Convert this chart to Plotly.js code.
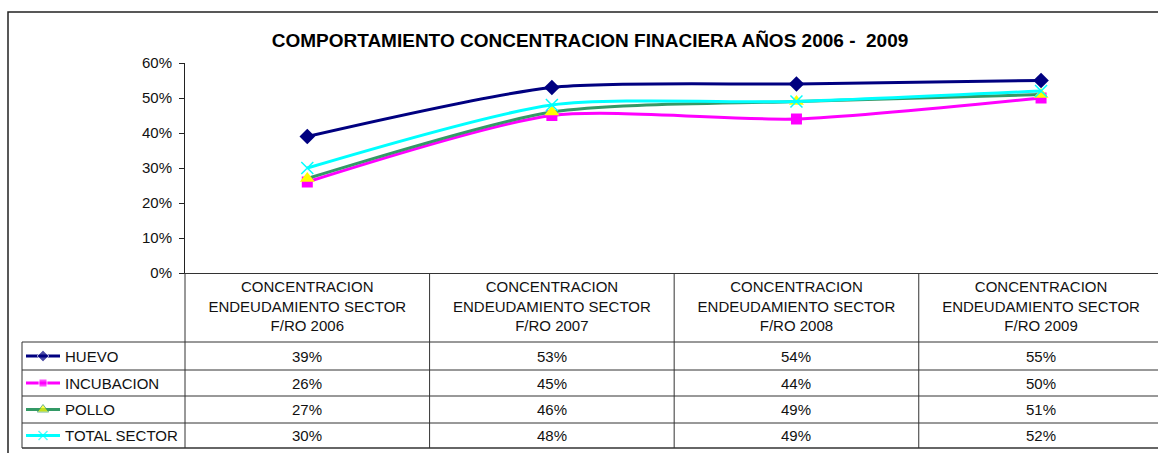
<!DOCTYPE html>
<html>
<head>
<meta charset="utf-8">
<script src="https://cdn.plot.ly/plotly-3.0.1.min.js"></script>
<style>html,body{margin:0;padding:0;background:#fff;}#chart{width:1158px;height:453px;}</style>
</head>
<body>
<div id="chart"></div>
<script>
// ---- data ----
const categories = [
  "CONCENTRACION<br>ENDEUDAMIENTO SECTOR<br>F/RO 2006",
  "CONCENTRACION<br>ENDEUDAMIENTO SECTOR<br>F/RO 2007",
  "CONCENTRACION<br>ENDEUDAMIENTO SECTOR<br>F/RO 2008",
  "CONCENTRACION<br>ENDEUDAMIENTO SECTOR<br>F/RO 2009"
];
const seriesNames = ["HUEVO", "INCUBACION", "POLLO", "TOTAL SECTOR"];
const huevo      = [0.39, 0.53, 0.54, 0.55];
const incubacion = [0.26, 0.45, 0.44, 0.50];
const pollo      = [0.27, 0.46, 0.49, 0.51];
const totalSector= [0.30, 0.48, 0.49, 0.52];
const yTickVals  = [0, 0.1, 0.2, 0.3, 0.4, 0.5, 0.6];
const titleText  = "COMPORTAMIENTO CONCENTRACION FINACIERA AÑOS 2006 -  2009";

// ---- styles / layout constants ----
const W = 1158, H = 453;
const FONT = "Liberation Sans, Arial, sans-serif";
const plotLeft = 185, plotTop = 63, plotBottom = 273;
const catStep = 244.67;
const firstCatX = 307;
const rowLines = [342, 370, 396, 423, 448];
const legendLeft = 22;
const gridColor = "#333";

const styles = [
  {line: "#000080", marker: {symbol: "diamond", color: "#000080", size: 12}},
  {line: "#FF00FF", marker: {symbol: "square", color: "#FF00FF", size: 11}},
  {line: "#339966", marker: {symbol: "triangle-up", color: "#FFFF00", size: 13}},
  {line: "#00FFFF", marker: {symbol: "x-thin-open", color: "#00FFFF", size: 12, line: {width: 1.5, color: "#00FFFF"}}}
];
const allSeries = [huevo, incubacion, pollo, totalSector];

const xRangeLeft = -0.5;
const xRangeRight = 3 + (W - (firstCatX + 3 * catStep)) / catStep;

const traces = [];
allSeries.forEach((vals, i) => {
  traces.push({
    type: "scatter", mode: "lines+markers",
    x: categories, y: vals, name: seriesNames[i],
    line: {color: styles[i].line, width: 3, shape: "spline", smoothing: 0.7},
    marker: styles[i].marker,
    cliponaxis: false,
    showlegend: false, hoverinfo: "skip",
    xaxis: "x", yaxis: "y"
  });
});

// legend samples inside the data table (pixel axes x2/y2)
const shapes = [];
const annotations = [];
seriesNames.forEach((name, i) => {
  const yc = (rowLines[i] + rowLines[i + 1]) / 2;
  const m = Object.assign({}, styles[i].marker);
  const baseSize = m.size;
  m.size = [0, Math.round(baseSize * 0.75), 0];
  traces.push({
    type: "scatter", mode: "lines+markers",
    x: [legendLeft + 4, legendLeft + 21, legendLeft + 38], y: [yc, yc, yc],
    line: {color: styles[i].line, width: 3},
    marker: m, showlegend: false, hoverinfo: "skip",
    xaxis: "x2", yaxis: "y2"
  });
  annotations.push({
    xref: "x2", yref: "y2", x: legendLeft + 41, y: yc,
    xanchor: "left", yanchor: "middle", showarrow: false,
    text: name, font: {family: FONT, size: 15, color: "#111"}
  });
  allSeries[i].forEach((v, j) => {
    annotations.push({
      xref: "x", yref: "y2", x: j, y: yc,
      xanchor: "center", yanchor: "middle", showarrow: false,
      text: Math.round(v * 100) + "%", font: {family: FONT, size: 15, color: "#111"}
    });
  });
});

// table grid
rowLines.forEach((y, k) => {
  shapes.push({type: "line", xref: "x2", yref: "y2", x0: legendLeft, x1: W + 20, y0: y, y1: y,
    line: {color: gridColor, width: k === rowLines.length - 1 ? 1.5 : 1}});
});
shapes.push({type: "line", xref: "x2", yref: "y2", x0: legendLeft, x1: legendLeft, y0: rowLines[0], y1: rowLines[rowLines.length - 1], line: {color: gridColor, width: 1}});
shapes.push({type: "line", xref: "x2", yref: "y2", x0: plotLeft, x1: plotLeft, y0: plotBottom, y1: rowLines[rowLines.length - 1], line: {color: gridColor, width: 1}});
for (let j = 0; j < categories.length - 1; j++) {
  shapes.push({type: "line", xref: "x", yref: "y2", x0: j + 0.5, x1: j + 0.5, y0: plotBottom, y1: rowLines[rowLines.length - 1], line: {color: gridColor, width: 1}});
}
// outer chart border
shapes.push({type: "rect", xref: "x2", yref: "y2", x0: 8, x1: W + 30, y0: 12, y1: H + 30, line: {color: "#222", width: 1.5}, fillcolor: "rgba(0,0,0,0)"});

const layout = {
  width: W, height: H,
  margin: {l: 0, r: 0, t: 0, b: 0, pad: 0},
  paper_bgcolor: "#fff", plot_bgcolor: "rgba(0,0,0,0)",
  showlegend: false,
  title: {
    text: "<b>" + titleText + "</b>",
    font: {family: FONT, size: 19, color: "#000"},
    x: 590 / W, xanchor: "center", xref: "container",
    y: 1 - 40 / H, yanchor: "middle", yref: "container"
  },
  xaxis: {
    type: "category", domain: [plotLeft / W, 1],
    range: [xRangeLeft, xRangeRight],
    showline: true, linecolor: gridColor, linewidth: 1,
    showgrid: false, zeroline: false, ticks: "",
    tickfont: {family: FONT, size: 15, color: "#111"},
    anchor: "y", fixedrange: true
  },
  yaxis: {
    domain: [(H - plotBottom) / H, (H - plotTop) / H],
    range: [0, 0.6], tickvals: yTickVals, tickformat: ".0%",
    showline: true, linecolor: "#222", linewidth: 1,
    ticks: "outside", ticklen: 5, tickcolor: "#222",
    ticklabelstandoff: 4,
    showgrid: false, zeroline: false,
    tickfont: {family: FONT, size: 15, color: "#111"},
    anchor: "x", fixedrange: true
  },
  xaxis2: {domain: [0, 1], range: [0, W], visible: false, anchor: "y2", fixedrange: true},
  yaxis2: {domain: [0, 1], range: [H, 0], visible: false, anchor: "x2", fixedrange: true},
  shapes: shapes,
  annotations: annotations
};

Plotly.newPlot("chart", traces, layout, {staticPlot: true, displayModeBar: false});
</script>
</body>
</html>
